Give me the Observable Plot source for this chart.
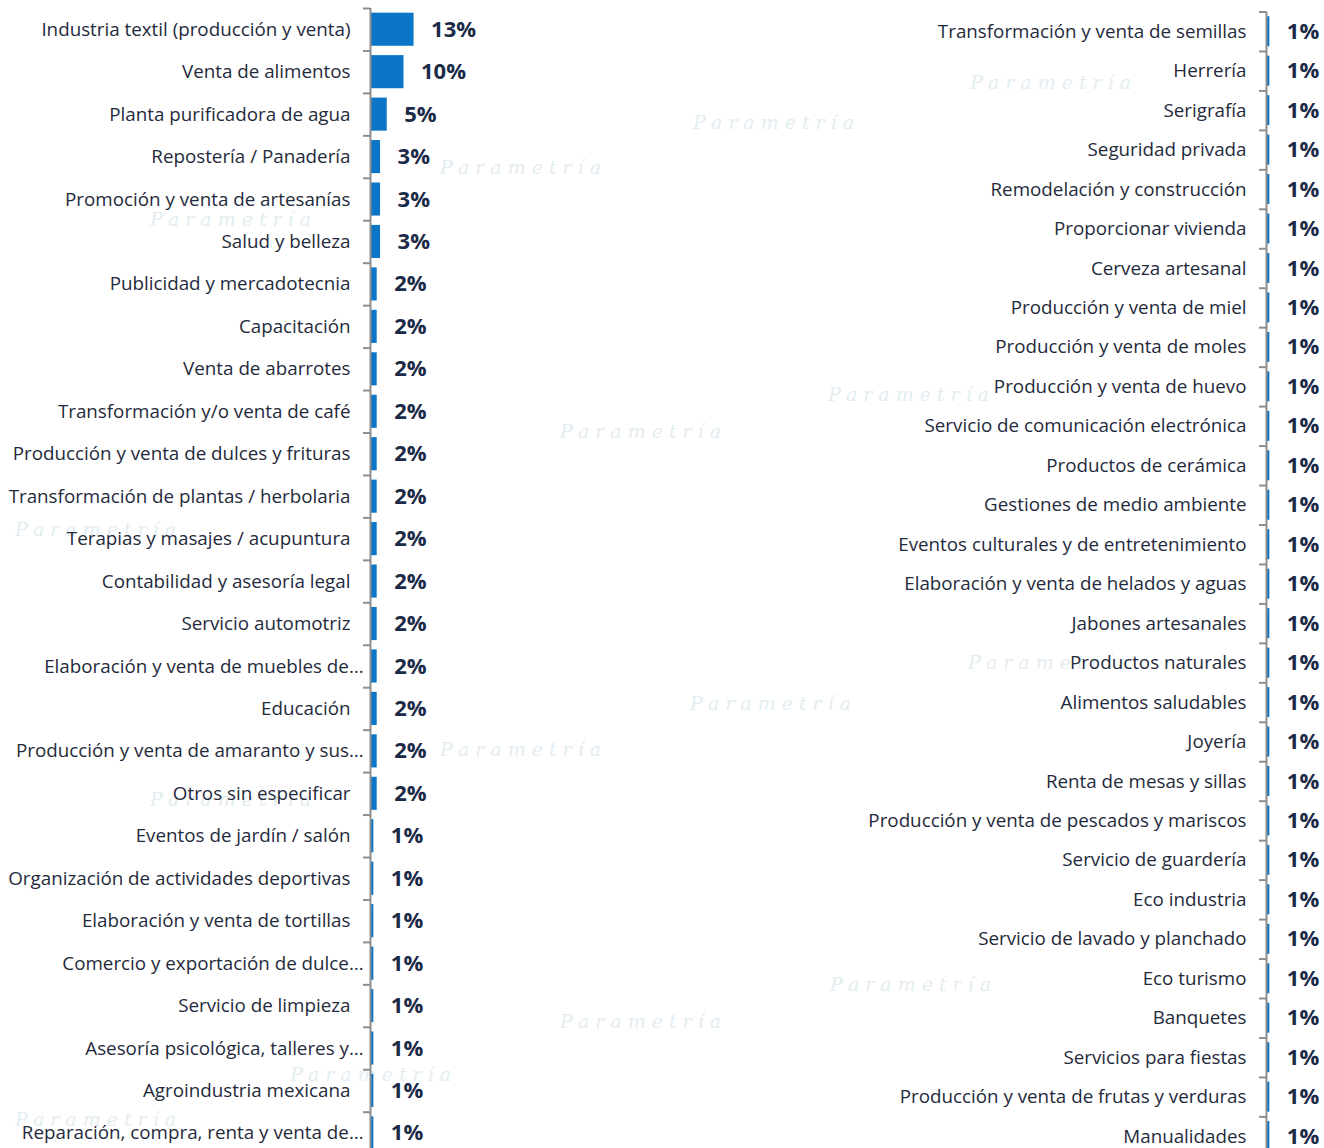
<!DOCTYPE html>
<html><head><meta charset="utf-8">
<script src="https://cdn.jsdelivr.net/npm/d3@7"></script>
<script src="https://cdn.jsdelivr.net/npm/@observablehq/plot@0.6"></script>
<style>
html,body{margin:0;padding:0;background:#fff;overflow:hidden;width:1324px;height:1148px}
#wrap{position:relative;width:1324px;height:1148px;overflow:hidden}
#left,#right{position:absolute;top:0;line-height:0}
#left{left:0}
#right{left:662px}
#bg{position:absolute;left:0;top:0;width:1324px;height:1148px}
.wm{position:absolute;font-family:"DejaVu Serif",serif;font-style:italic;color:#e3edf1;font-size:19px;letter-spacing:6px;white-space:nowrap}
</style></head><body>
<div id="wrap"><div id="bg"></div><div id="left"></div><div id="right"></div></div>
<script>
const leftCategories = [
  "Industria textil (producción y venta)",
  "Venta de alimentos",
  "Planta purificadora de agua",
  "Repostería / Panadería",
  "Promoción y venta de artesanías",
  "Salud y belleza",
  "Publicidad y mercadotecnia",
  "Capacitación",
  "Venta de abarrotes",
  "Transformación y/o venta de café",
  "Producción y venta de dulces y frituras",
  "Transformación de plantas / herbolaria",
  "Terapias y masajes / acupuntura",
  "Contabilidad y asesoría legal",
  "Servicio automotriz",
  "Elaboración y venta de muebles de…",
  "Educación",
  "Producción y venta de amaranto y sus…",
  "Otros sin especificar",
  "Eventos de jardín / salón",
  "Organización de actividades deportivas",
  "Elaboración y venta de tortillas",
  "Comercio y exportación de dulce…",
  "Servicio de limpieza",
  "Asesoría psicológica, talleres y…",
  "Agroindustria mexicana",
  "Reparación, compra, renta y venta de…"
];
const leftValues = [13, 10, 5, 3, 3, 3, 2, 2, 2, 2, 2, 2, 2, 2, 2, 2, 2, 2, 2, 1, 1, 1, 1, 1, 1, 1, 1];

const rightCategories = [
  "Transformación y venta de semillas",
  "Herrería",
  "Serigrafía",
  "Seguridad privada",
  "Remodelación y construcción",
  "Proporcionar vivienda",
  "Cerveza artesanal",
  "Producción y venta de miel",
  "Producción y venta de moles",
  "Producción y venta de huevo",
  "Servicio de comunicación electrónica",
  "Productos de cerámica",
  "Gestiones de medio ambiente",
  "Eventos culturales y de entretenimiento",
  "Elaboración y venta de helados y aguas",
  "Jabones artesanales",
  "Productos naturales",
  "Alimentos saludables",
  "Joyería",
  "Renta de mesas y sillas",
  "Producción y venta de pescados y mariscos",
  "Servicio de guardería",
  "Eco industria",
  "Servicio de lavado y planchado",
  "Eco turismo",
  "Banquetes",
  "Servicios para fiestas",
  "Producción y venta de frutas y verduras",
  "Manualidades"
];
const rightValues = [1,1,1,1,1,1,1,1,1,1,1,1,1,1,1,1,1,1,1,1,1,1,1,1,1,1,1,1,1];

const watermarkText = "Parametría";

// faint background watermark
const wmSpots = [[150,208],[440,156],[693,111],[970,71],[560,420],[828,383],[690,692],[440,738],[150,788],[830,973],[560,1010],[290,1063],[15,1108],[15,518],[968,651]];
const bg = document.getElementById("bg");
for (const [l,t] of wmSpots) {
  const s = document.createElement("span");
  s.className = "wm"; s.textContent = watermarkText;
  s.style.left = l + "px"; s.style.top = t + "px";
  bg.appendChild(s);
}

const pxPerUnit = 3.35;
function panel(cats, vals, width, axisX, top, step, pad) {
  const data = cats.map((c, i) => ({cat: c, value: vals[i]}));
  const n = cats.length;
  const height = Math.ceil(top + n * step);
  const full = cats.filter(c => !c.endsWith("…"));
  const cut = cats.filter(c => c.endsWith("…"));
  const axisStyle = {tickSize: 0, fontSize: 18.8, label: null, fill: "#1f2a3c"};
  return Plot.plot({
    width, height,
    marginTop: top, marginBottom: height - top - n * step, marginLeft: axisX, marginRight: 0,
    style: {background: "transparent", fontFamily: "'Open Sans', sans-serif", color: "#1f2a3c", overflow: "visible"},
    x: {domain: [0, 13], range: [axisX, axisX + 13 * pxPerUnit], axis: null},
    y: {domain: cats, paddingInner: pad, paddingOuter: pad / 2, round: false, axis: null},
    marks: [
      Plot.barX(data, {x: "value", y: "cat", fill: "#0b76c8"}),
      Plot.ruleX([0], {stroke: "#8e8e8e", strokeWidth: 2}),
      Plot.ruleY(data, {y: "cat", dy: -step / 2, x1: -7 / pxPerUnit, x2: 0, stroke: "#8e8e8e", strokeWidth: 2}),
      Plot.ruleY(data.slice(-1), {y: "cat", dy: step / 2, x1: -7 / pxPerUnit, x2: 0, stroke: "#8e8e8e", strokeWidth: 2}),
      Plot.axisY(full, {...axisStyle, tickPadding: 20}),
      cut.length ? Plot.axisY(cut, {...axisStyle, tickPadding: 7}) : null,
      Plot.text(data, {x: "value", y: "cat", text: d => d.value + "%", textAnchor: "start", dx: 17, fontSize: 22, fontWeight: "bold", fill: "#1b2a47"})
    ]
  });
}

document.getElementById("left").appendChild(panel(leftCategories, leftValues, 662, 370, 8, 42.45, 0.22));
document.getElementById("right").appendChild(panel(rightCategories, rightValues, 662, 604, 11.5, 39.46, 0.24));
</script>
</body></html>
